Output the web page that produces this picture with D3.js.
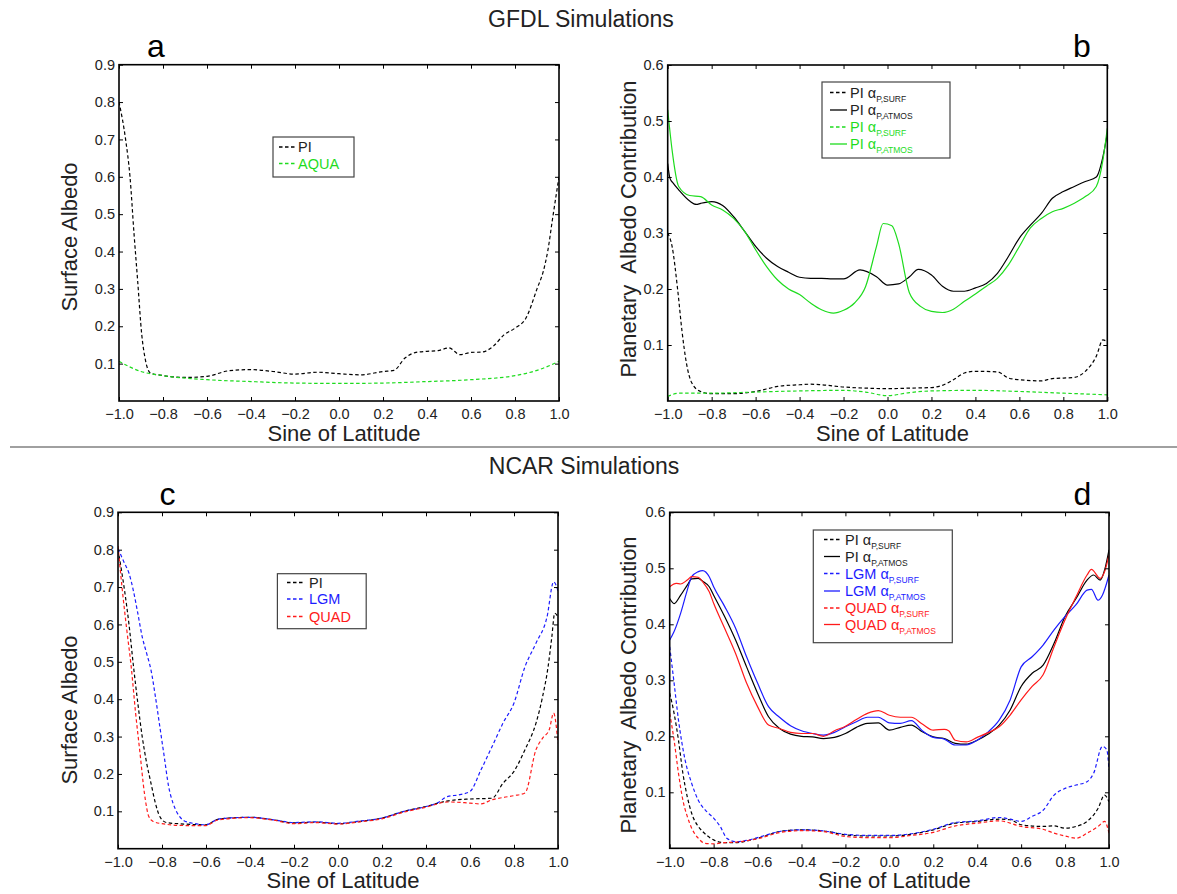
<!DOCTYPE html>
<html>
<head>
<meta charset="utf-8">
<script src="https://cdn.jsdelivr.net/npm/d3@7"></script>
<style>
  body { margin: 0; background: #fff; }
  svg { display: block; font-family: "Liberation Sans", Arial, sans-serif; }
</style>
</head>
<body>
<svg id="fig" width="1177" height="894"></svg>
<script>
'use strict';

// sine of latitude, value
const aPI = [[-1,0.80],[-0.97,0.70],[-0.95,0.60],[-0.932,0.45],[-0.915,0.32],[-0.897,0.18],[-0.88,0.11],[-0.857,0.075],[-0.8,0.068],[-0.7,0.063],[-0.6,0.066],[-0.5,0.081],[-0.4,0.084],[-0.3,0.079],[-0.2,0.072],[-0.1,0.077],[0,0.073],[0.1,0.070],[0.2,0.079],[0.25,0.082],[0.3,0.115],[0.35,0.13],[0.4,0.133],[0.45,0.135],[0.5,0.142],[0.55,0.124],[0.6,0.13],[0.65,0.131],[0.7,0.146],[0.75,0.177],[0.8,0.195],[0.85,0.222],[0.9,0.30],[0.93,0.35],[0.95,0.405],[0.97,0.485],[1,0.60]];
const aAQUA = [[-1,0.106],[-0.9,0.079],[-0.8,0.068],[-0.6,0.057],[-0.4,0.052],[-0.2,0.048],[0,0.047],[0.2,0.048],[0.4,0.052],[0.6,0.057],[0.8,0.068],[0.9,0.082],[1,0.106]];

const bPIsurf = [[-1,0.30],[-0.98,0.276],[-0.955,0.200],[-0.935,0.125],[-0.915,0.068],[-0.89,0.032],[-0.85,0.017],[-0.8,0.013],[-0.7,0.013],[-0.6,0.017],[-0.5,0.026],[-0.4,0.029],[-0.35,0.03],[-0.3,0.029],[-0.2,0.025],[-0.1,0.023],[0,0.022],[0.1,0.023],[0.2,0.024],[0.25,0.028],[0.3,0.038],[0.35,0.05],[0.4,0.053],[0.5,0.052],[0.55,0.041],[0.6,0.038],[0.7,0.036],[0.75,0.04],[0.8,0.041],[0.85,0.042],[0.9,0.053],[0.95,0.08],[0.98,0.109],[1,0.106]];
const bPIatm = [[-1,0.424],[-0.99,0.398],[-0.975,0.389],[-0.95,0.377],[-0.9,0.357],[-0.87,0.351],[-0.85,0.353],[-0.8,0.356],[-0.75,0.349],[-0.7,0.329],[-0.65,0.303],[-0.6,0.276],[-0.55,0.255],[-0.5,0.240],[-0.45,0.230],[-0.4,0.221],[-0.35,0.219],[-0.3,0.219],[-0.25,0.218],[-0.2,0.218],[-0.125,0.234],[-0.05,0.222],[0,0.207],[0.05,0.209],[0.1,0.222],[0.14,0.235],[0.2,0.225],[0.25,0.205],[0.3,0.196],[0.35,0.196],[0.4,0.202],[0.45,0.21],[0.5,0.228],[0.55,0.258],[0.6,0.291],[0.65,0.314],[0.7,0.335],[0.75,0.362],[0.8,0.374],[0.85,0.383],[0.9,0.392],[0.95,0.40],[0.98,0.436],[1,0.478]];
const bAQsurf = [[-1,0.008],[-0.95,0.014],[-0.8,0.014],[-0.6,0.016],[-0.4,0.018],[-0.2,0.019],[-0.1,0.016],[0,0.0095],[0.1,0.015],[0.2,0.018],[0.4,0.019],[0.6,0.017],[0.8,0.014],[1,0.011]];
const bAQatm = [[-1,0.52],[-0.98,0.448],[-0.95,0.383],[-0.9,0.367],[-0.85,0.365],[-0.8,0.35],[-0.75,0.341],[-0.7,0.326],[-0.65,0.303],[-0.6,0.27],[-0.55,0.24],[-0.5,0.216],[-0.45,0.2],[-0.4,0.19],[-0.35,0.175],[-0.3,0.163],[-0.246,0.157],[-0.2,0.162],[-0.15,0.175],[-0.1,0.204],[-0.05,0.276],[-0.02,0.317],[0.02,0.313],[0.05,0.282],[0.1,0.193],[0.15,0.169],[0.2,0.16],[0.25,0.158],[0.3,0.164],[0.35,0.178],[0.4,0.191],[0.45,0.205],[0.5,0.219],[0.55,0.243],[0.6,0.276],[0.65,0.309],[0.7,0.326],[0.75,0.338],[0.8,0.344],[0.85,0.353],[0.9,0.365],[0.95,0.383],[0.98,0.43],[1,0.487]];

const cPI = [[-1,0.80],[-0.97,0.69],[-0.95,0.60],[-0.93,0.49],[-0.91,0.39],[-0.89,0.30],[-0.87,0.23],[-0.85,0.175],[-0.83,0.122],[-0.81,0.086],[-0.78,0.07],[-0.7,0.066],[-0.6,0.064],[-0.55,0.078],[-0.5,0.082],[-0.4,0.084],[-0.3,0.078],[-0.2,0.069],[-0.1,0.071],[0,0.067],[0.1,0.073],[0.2,0.082],[0.3,0.10],[0.4,0.113],[0.5,0.128],[0.6,0.133],[0.7,0.135],[0.75,0.175],[0.8,0.207],[0.85,0.265],[0.9,0.336],[0.93,0.407],[0.955,0.487],[0.972,0.567],[0.985,0.63],[1,0.62]];
const cLGM = [[-1,0.803],[-0.97,0.763],[-0.95,0.737],[-0.93,0.69],[-0.91,0.63],[-0.89,0.567],[-0.87,0.523],[-0.85,0.478],[-0.83,0.407],[-0.81,0.327],[-0.79,0.247],[-0.77,0.167],[-0.75,0.122],[-0.73,0.095],[-0.7,0.075],[-0.65,0.067],[-0.6,0.064],[-0.55,0.078],[-0.5,0.082],[-0.4,0.084],[-0.3,0.078],[-0.2,0.070],[-0.1,0.072],[0,0.068],[0.1,0.074],[0.2,0.082],[0.3,0.10],[0.4,0.113],[0.45,0.122],[0.5,0.14],[0.55,0.144],[0.6,0.153],[0.65,0.211],[0.7,0.273],[0.75,0.336],[0.8,0.39],[0.85,0.487],[0.9,0.55],[0.95,0.62],[0.98,0.714],[1,0.69]];
const cQUAD = [[-1,0.81],[-0.98,0.69],[-0.96,0.585],[-0.94,0.487],[-0.92,0.363],[-0.9,0.256],[-0.88,0.149],[-0.86,0.086],[-0.84,0.073],[-0.8,0.067],[-0.7,0.062],[-0.6,0.062],[-0.55,0.076],[-0.5,0.080],[-0.4,0.083],[-0.3,0.077],[-0.2,0.067],[-0.1,0.070],[0,0.066],[0.1,0.072],[0.2,0.080],[0.3,0.098],[0.4,0.111],[0.5,0.125],[0.6,0.122],[0.65,0.12],[0.7,0.131],[0.75,0.137],[0.8,0.142],[0.85,0.149],[0.9,0.265],[0.93,0.296],[0.96,0.318],[0.98,0.363],[1,0.282]];

const dPIsurf = [[-1,0.277],[-0.98,0.241],[-0.96,0.193],[-0.94,0.134],[-0.92,0.092],[-0.9,0.0625],[-0.87,0.039],[-0.85,0.03],[-0.8,0.015],[-0.75,0.01],[-0.7,0.01],[-0.65,0.013],[-0.6,0.018],[-0.55,0.024],[-0.5,0.03],[-0.4,0.033],[-0.3,0.031],[-0.2,0.024],[-0.1,0.022],[0,0.022],[0.1,0.025],[0.2,0.033],[0.3,0.045],[0.4,0.048],[0.5,0.052],[0.55,0.051],[0.6,0.042],[0.7,0.039],[0.75,0.04],[0.8,0.036],[0.85,0.039],[0.9,0.048],[0.95,0.071],[0.98,0.095],[1,0.083]];
const dPIatm = [[-1,0.446],[-0.98,0.437],[-0.95,0.452],[-0.92,0.47],[-0.9,0.481],[-0.87,0.482],[-0.85,0.477],[-0.82,0.467],[-0.8,0.452],[-0.75,0.414],[-0.7,0.372],[-0.65,0.324],[-0.6,0.277],[-0.55,0.235],[-0.5,0.214],[-0.45,0.204],[-0.4,0.2],[-0.35,0.199],[-0.3,0.196],[-0.25,0.198],[-0.2,0.205],[-0.15,0.216],[-0.1,0.223],[-0.05,0.224],[0,0.211],[0.05,0.216],[0.1,0.22],[0.15,0.208],[0.2,0.199],[0.25,0.196],[0.3,0.1875],[0.35,0.186],[0.4,0.193],[0.45,0.204],[0.5,0.22],[0.55,0.247],[0.6,0.289],[0.65,0.3125],[0.7,0.327],[0.75,0.366],[0.8,0.414],[0.85,0.446],[0.9,0.479],[0.93,0.488],[0.96,0.479],[0.98,0.497],[1,0.533]];
const dLGMsurf = [[-1,0.36],[-0.98,0.295],[-0.96,0.229],[-0.93,0.158],[-0.9,0.116],[-0.87,0.086],[-0.83,0.065],[-0.8,0.054],[-0.77,0.039],[-0.74,0.018],[-0.7,0.012],[-0.65,0.014],[-0.6,0.019],[-0.55,0.025],[-0.5,0.03],[-0.4,0.033],[-0.3,0.031],[-0.2,0.025],[-0.1,0.023],[0,0.023],[0.1,0.026],[0.2,0.034],[0.3,0.046],[0.4,0.049],[0.5,0.055],[0.55,0.052],[0.6,0.048],[0.65,0.057],[0.7,0.068],[0.75,0.095],[0.8,0.107],[0.85,0.113],[0.9,0.119],[0.93,0.134],[0.97,0.182],[0.99,0.176],[1,0.14]];
const dLGMatm = [[-1,0.372],[-0.98,0.387],[-0.95,0.42],[-0.92,0.461],[-0.9,0.485],[-0.87,0.494],[-0.85,0.496],[-0.82,0.485],[-0.8,0.467],[-0.75,0.432],[-0.7,0.393],[-0.65,0.342],[-0.6,0.295],[-0.55,0.253],[-0.5,0.234],[-0.45,0.219],[-0.4,0.21],[-0.35,0.205],[-0.3,0.202],[-0.25,0.207],[-0.2,0.217],[-0.15,0.226],[-0.1,0.234],[-0.05,0.234],[0,0.224],[0.05,0.223],[0.1,0.228],[0.15,0.21],[0.2,0.198],[0.25,0.195],[0.3,0.1845],[0.35,0.1845],[0.4,0.193],[0.45,0.208],[0.5,0.229],[0.55,0.265],[0.6,0.324],[0.65,0.342],[0.7,0.363],[0.75,0.39],[0.8,0.414],[0.85,0.435],[0.9,0.461],[0.92,0.4625],[0.95,0.443],[0.97,0.452],[1,0.488]];
const dQUADsurf = [[-1,0.241],[-0.98,0.193],[-0.96,0.134],[-0.94,0.086],[-0.92,0.057],[-0.9,0.036],[-0.87,0.018],[-0.84,0.009],[-0.8,0.008],[-0.75,0.01],[-0.7,0.011],[-0.6,0.017],[-0.5,0.028],[-0.4,0.0315],[-0.3,0.03],[-0.2,0.021],[-0.1,0.019],[0,0.019],[0.1,0.023],[0.2,0.0285],[0.3,0.04],[0.4,0.045],[0.5,0.049],[0.6,0.039],[0.7,0.034],[0.75,0.027],[0.8,0.022],[0.85,0.018],[0.9,0.027],[0.95,0.039],[0.98,0.048],[1,0.027]];
const dQUADatm = [[-1,0.467],[-0.97,0.473],[-0.95,0.472],[-0.92,0.479],[-0.9,0.485],[-0.87,0.484],[-0.85,0.476],[-0.82,0.458],[-0.8,0.4375],[-0.75,0.393],[-0.7,0.348],[-0.65,0.295],[-0.6,0.253],[-0.55,0.22],[-0.5,0.214],[-0.45,0.207],[-0.4,0.205],[-0.35,0.205],[-0.3,0.2],[-0.25,0.21],[-0.2,0.218],[-0.15,0.23],[-0.1,0.241],[-0.05,0.246],[0,0.2375],[0.05,0.234],[0.1,0.234],[0.15,0.222],[0.2,0.211],[0.25,0.2125],[0.27,0.21],[0.3,0.193],[0.35,0.19],[0.4,0.198],[0.45,0.2065],[0.5,0.217],[0.55,0.238],[0.6,0.265],[0.65,0.289],[0.7,0.31],[0.75,0.36],[0.8,0.408],[0.85,0.449],[0.9,0.488],[0.92,0.498],[0.96,0.482],[0.98,0.494],[1,0.524]];

const xTicks = [-1, -0.8, -0.6, -0.4, -0.2, 0, 0.2, 0.4, 0.6, 0.8, 1];
const surfTicks = [0.1, 0.2, 0.3, 0.4, 0.5, 0.6, 0.7, 0.8, 0.9];
const planTicks = [0.1, 0.2, 0.3, 0.4, 0.5, 0.6];

const black = '#000';
const green = '#1edc1e';
const blue = '#1c1cff';
const red = '#ff1a1a';
const dash = '3.5,2.5';

const svg = d3.select('#fig');
svg.append('rect').attr('width', 1177).attr('height', 894).attr('fill', '#fff');

svg.append('text').attr('x', 581).attr('y', 26.5).attr('text-anchor', 'middle')
  .attr('font-size', 23).attr('fill', '#222').text('GFDL Simulations');
svg.append('text').attr('x', 584).attr('y', 474).attr('text-anchor', 'middle')
  .attr('font-size', 23).attr('fill', '#222').text('NCAR Simulations');
svg.append('line').attr('x1', 10).attr('x2', 1177).attr('y1', 447).attr('y2', 447)
  .attr('stroke', '#808080').attr('stroke-width', 1.7);

function drawPanel(p) {
  const x = d3.scaleLinear().domain([-1, 1]).range([p.x0, p.x1]);
  const y = d3.scaleLinear().domain([0, p.ymax]).range([p.y1, p.y0]);
  const g = svg.append('g');

  const clipId = 'clip' + p.letter;
  g.append('clipPath').attr('id', clipId).append('rect')
    .attr('x', p.x0).attr('y', p.y0).attr('width', p.x1 - p.x0).attr('height', p.y1 - p.y0);

  const line = d3.line().x(d => x(d[0])).y(d => y(d[1])).curve(d3.curveMonotoneX);
  const lines = g.append('g').attr('clip-path', `url(#${clipId})`);
  p.series.forEach(s => {
    lines.append('path')
      .attr('d', line(s.data))
      .attr('fill', 'none')
      .attr('stroke', s.color)
      .attr('stroke-width', 1.2)
      .attr('stroke-dasharray', s.dashed ? dash : null);
  });

  // inward ticks on all four sides, MATLAB style
  const tl = 4;
  const xb = d3.axisBottom(x).tickValues(xTicks).tickSize(-tl).tickFormat(d3.format('.1f'));
  const xt = d3.axisTop(x).tickValues(xTicks).tickSize(-tl).tickFormat('');
  const yl = d3.axisLeft(y).tickValues(p.yTicks).tickSize(-tl).tickFormat(d3.format('.1f'));
  const yr = d3.axisRight(y).tickValues(p.yTicks).tickSize(-tl).tickFormat('');
  const axB = g.append('g').attr('transform', `translate(0,${p.y1})`).call(xb);
  g.append('g').attr('transform', `translate(0,${p.y0})`).call(xt);
  const axL = g.append('g').attr('transform', `translate(${p.x0},0)`).call(yl);
  g.append('g').attr('transform', `translate(${p.x1},0)`).call(yr);
  g.selectAll('.domain').remove();
  g.selectAll('.tick line').attr('stroke', '#000').attr('stroke-width', 1);
  axB.selectAll('.tick text').attr('y', 8).attr('font-size', 14.5).attr('fill', '#222')
    .attr('font-family', '"Liberation Sans", Arial, sans-serif');
  axL.selectAll('.tick text').attr('x', -4).attr('font-size', 14.5).attr('fill', '#222')
    .attr('font-family', '"Liberation Sans", Arial, sans-serif');

  g.append('rect').attr('x', p.x0).attr('y', p.y0)
    .attr('width', p.x1 - p.x0).attr('height', p.y1 - p.y0)
    .attr('fill', 'none').attr('stroke', '#000').attr('stroke-width', 1.6);

  g.append('text').attr('x', p.lx).attr('y', p.ly).attr('text-anchor', 'middle')
    .attr('font-size', 32).attr('fill', '#000').text(p.letter);

  g.append('text').attr('x', (p.x0 + p.x1) / 2 + 5).attr('y', p.y1 + 39.5)
    .attr('text-anchor', 'middle').attr('font-size', 22).attr('fill', '#222')
    .text('Sine of Latitude');
  g.append('text')
    .attr('transform', `translate(${p.yx},${p.yy}) rotate(-90)`)
    .attr('text-anchor', 'middle').attr('dy', '0.36em')
    .attr('font-size', 22).attr('fill', '#222')
    .attr('xml:space', 'preserve')
    .text(p.ylabel);

  // legend
  const L = p.legend;
  g.append('rect').attr('x', L.x0).attr('y', L.y0)
    .attr('width', L.x1 - L.x0).attr('height', L.y1 - L.y0)
    .attr('fill', '#fff').attr('stroke', '#444').attr('stroke-width', 1.2);
  L.items.forEach((it, i) => {
    const s = p.series[it.s];
    const yy = L.rows[i];
    g.append('line').attr('x1', L.lx0).attr('x2', L.lx1).attr('y1', yy).attr('y2', yy)
      .attr('stroke', s.color).attr('stroke-width', 1.3)
      .attr('stroke-dasharray', s.dashed ? dash : null);
    const t = g.append('text').attr('x', L.tx).attr('y', yy + 5)
      .attr('font-size', 14.5).attr('fill', s.color === black ? '#222' : s.color);
    t.append('tspan').text(it.label);
    if (it.sub) {
      t.append('tspan').attr('font-size', 8.5).attr('dy', 4).text(it.sub);
    }
  });
}

const surfLabel = 'Surface Albedo';
const planLabel = 'Planetary  Albedo Contribution';

drawPanel({
  letter: 'a', x0: 119, x1: 559, y0: 64.7, y1: 401, ymax: 0.9, yTicks: surfTicks,
  lx: 156, ly: 57, yx: 69, yy: 237, ylabel: surfLabel,
  series: [
    {data: aPI, color: black, dashed: true},
    {data: aAQUA, color: green, dashed: true}
  ],
  legend: {x0: 273, y0: 137, x1: 354, y1: 177, lx0: 279, lx1: 297, tx: 298,
    rows: [147, 163.5],
    items: [{s: 0, label: 'PI'}, {s: 1, label: 'AQUA'}]}
});

drawPanel({
  letter: 'b', x0: 667.7, x1: 1107.3, y0: 65, y1: 401, ymax: 0.6, yTicks: planTicks,
  lx: 1082, ly: 57, yx: 628, yy: 229, ylabel: planLabel,
  series: [
    {data: bPIsurf, color: black, dashed: true},
    {data: bPIatm, color: black, dashed: false},
    {data: bAQsurf, color: green, dashed: true},
    {data: bAQatm, color: green, dashed: false}
  ],
  legend: {x0: 822, y0: 82, x1: 950, y1: 158, lx0: 830, lx1: 847, tx: 850,
    rows: [92.5, 110, 127, 144],
    items: [
      {s: 0, label: 'PI α', sub: 'P,SURF'},
      {s: 1, label: 'PI α', sub: 'P,ATMOS'},
      {s: 2, label: 'PI α', sub: 'P,SURF'},
      {s: 3, label: 'PI α', sub: 'P,ATMOS'}
    ]}
});

drawPanel({
  letter: 'c', x0: 118, x1: 558, y0: 512.3, y1: 848.7, ymax: 0.9, yTicks: surfTicks,
  lx: 167.5, ly: 505, yx: 69, yy: 710, ylabel: surfLabel,
  series: [
    {data: cPI, color: black, dashed: true},
    {data: cLGM, color: blue, dashed: true},
    {data: cQUAD, color: red, dashed: true}
  ],
  legend: {x0: 277.4, y0: 573.7, x1: 366.2, y1: 628.7, lx0: 287, lx1: 304, tx: 309,
    rows: [582.5, 599, 616.5],
    items: [{s: 0, label: 'PI'}, {s: 1, label: 'LGM'}, {s: 2, label: 'QUAD'}]}
});

drawPanel({
  letter: 'd', x0: 669.7, x1: 1109, y0: 512.3, y1: 848.3, ymax: 0.6, yTicks: planTicks,
  lx: 1082.5, ly: 505, yx: 628, yy: 685, ylabel: planLabel,
  series: [
    {data: dPIsurf, color: black, dashed: true},
    {data: dPIatm, color: black, dashed: false},
    {data: dLGMsurf, color: blue, dashed: true},
    {data: dLGMatm, color: blue, dashed: false},
    {data: dQUADsurf, color: red, dashed: true},
    {data: dQUADatm, color: red, dashed: false}
  ],
  legend: {x0: 813.3, y0: 530, x1: 952.3, y1: 642.7, lx0: 824, lx1: 840, tx: 845,
    rows: [539.5, 556.5, 573.5, 591, 608, 624.5],
    items: [
      {s: 0, label: 'PI α', sub: 'P,SURF'},
      {s: 1, label: 'PI α', sub: 'P,ATMOS'},
      {s: 2, label: 'LGM α', sub: 'P,SURF'},
      {s: 3, label: 'LGM α', sub: 'P,ATMOS'},
      {s: 4, label: 'QUAD α', sub: 'P,SURF'},
      {s: 5, label: 'QUAD α', sub: 'P,ATMOS'}
    ]}
});
</script>
</body>
</html>
